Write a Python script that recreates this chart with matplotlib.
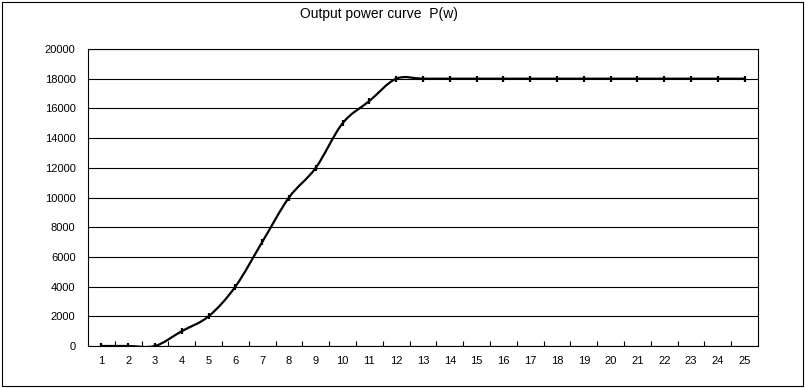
import numpy as np
from matplotlib import pyplot as plt
from matplotlib.path import Path
from matplotlib.patches import PathPatch, Rectangle

plt.rcParams["font.family"] = ["Liberation Sans", "DejaVu Sans"]

# wind speed categories and output power P(w)
categories = list(range(1, 26))
power = [0, 0, 0, 1000, 2000, 4000, 7000, 10000, 12000, 15000, 16500, 18000,
         18000, 18000, 18000, 18000, 18000, 18000, 18000, 18000, 18000, 18000,
         18000, 18000, 18000]
y_ticks = list(range(0, 20001, 2000))
title = "Output power curve  P(w)"


def smooth_path(xs, ys):
    # Excel-like smoothed line: cubic bezier through every point
    pts = np.column_stack([xs, ys]).astype(float)
    n = len(pts)
    verts = [pts[0]]
    codes = [Path.MOVETO]
    for i in range(n - 1):
        p0 = pts[i - 1] if i > 0 else pts[i]
        p1 = pts[i]
        p2 = pts[i + 1]
        p3 = pts[i + 2] if i + 2 < n else pts[i + 1]
        c1 = p1 + (p2 - p0) / 6.0
        c2 = p2 - (p3 - p1) / 6.0
        verts += [c1, c2, p2]
        codes += [Path.CURVE4] * 3
    return Path(verts, codes)


fig = plt.figure(figsize=(8.05, 3.88), dpi=100)
ax = fig.add_axes([88 / 805, 42 / 388, 670 / 805, 297 / 388])

ax.add_patch(PathPatch(smooth_path(categories, power), fill=False,
                       edgecolor="black", lw=1.6, capstyle="round"))
ax.plot(categories, power, ls="none", marker="|", ms=4, mew=1.6, color="black")

ax.set_xlim(0.5, 25.5)
ax.set_ylim(0, 20000)
ax.set_yticks(y_ticks)
ax.set_yticklabels([str(v) for v in y_ticks], fontsize=8)
ax.set_xticks(categories)
ax.set_xticklabels([str(c) for c in categories], fontsize=8)
ax.tick_params(axis="x", which="major", length=0, pad=7)
ax.tick_params(axis="y", length=0, pad=9)
ax.set_xticks(np.arange(1.5, 25.5, 1.0), minor=True)
ax.tick_params(axis="x", which="minor", direction="in", length=3.5,
               width=0.8, color="black")
ax.yaxis.grid(True, color="black", lw=0.8)
ax.set_axisbelow(True)
for s in ax.spines.values():
    s.set_color("black")
    s.set_linewidth(0.8)

fig.text(300 / 805, 1 - 14 / 388, title, fontsize=10, va="center", ha="left")
fig.patches.append(Rectangle((2 / 805, 2 / 388), 801 / 805, 384 / 388,
                             transform=fig.transFigure, fill=False,
                             edgecolor="black", lw=0.8))

fig.savefig("out.png", dpi=100)
